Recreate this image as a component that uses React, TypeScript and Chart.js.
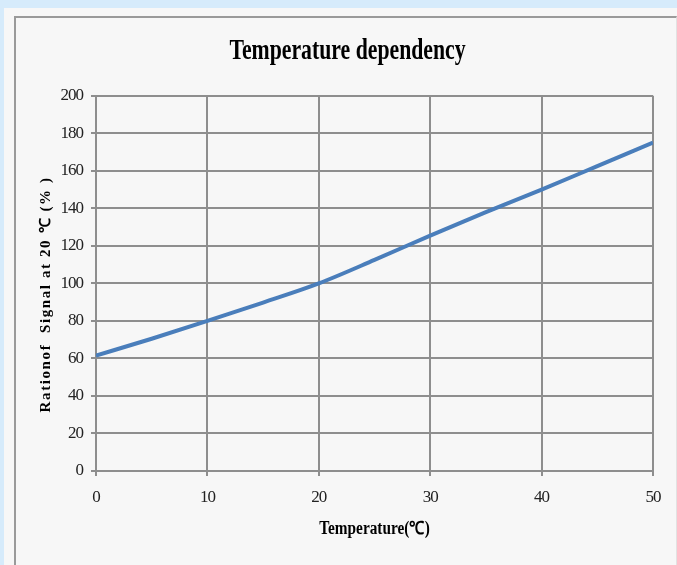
import React, { useEffect, useRef } from "react";
import { Chart, registerables } from "chart.js";

Chart.register(...registerables);

const temperatures = [0, 5, 10, 15, 20, 25, 30, 35, 40, 45, 50];
const ratioValues = [61.5, 70.5, 80, 89.8, 100, 112.5, 125.5, 138, 150, 162.5, 175];
const xTicks = [0, 10, 20, 30, 40, 50];
const yTicks = [0, 20, 40, 60, 80, 100, 120, 140, 160, 180, 200];

const chartTitle = "Temperature dependency";
const xTitle = "Temperature(℃)";
const yTitle = "Rationof  Signal at 20 ℃ (% )";

const W = 677;
const H = 565;

type Tweak = { spacing?: string; sx?: number; cx?: () => number; dy?: number };

function wrapDraw(obj: any, method: string, t: Tweak) {
  const key = "__wrapped_" + method;
  if (obj[key]) return;
  const orig = obj[method];
  obj[method] = function (...args: any[]) {
    const ctx = this.ctx;
    ctx.save();
    if (t.spacing) (ctx as any).letterSpacing = t.spacing;
    if (t.dy) ctx.translate(0, t.dy);
    if (t.sx && t.cx) {
      const c = t.cx();
      ctx.translate(c, 0);
      ctx.scale(t.sx, 1);
      ctx.translate(-c, 0);
    }
    const r = orig.apply(this, args);
    ctx.restore();
    return r;
  };
  obj[key] = true;
}

const textTweakPlugin = {
  id: "textTweakPlugin",
  beforeDraw(chart: any) {
    const tb = chart.titleBlock;
    if (tb) wrapDraw(tb, "draw", { sx: 0.75, cx: () => (tb.left + tb.right) / 2 });
    const x = chart.scales.x;
    const y = chart.scales.y;
    wrapDraw(x, "drawLabels", { spacing: "-1px" });
    wrapDraw(y, "drawLabels", { spacing: "-1px" });
    wrapDraw(y, "drawTitle", { spacing: "1.6px", dy: 11 });
    wrapDraw(x, "drawTitle", { sx: 0.85, cx: () => (x.left + x.right) / 2 });
  },
};

export default function App() {
  const ref = useRef<HTMLCanvasElement | null>(null);

  useEffect(() => {
    if (!ref.current) return;
    const serif = "'Liberation Serif', 'Times New Roman', serif";
    const grid = "#8e8e8e";
    const chart = new Chart(ref.current, {
      type: "line",
      data: {
        datasets: [
          {
            data: temperatures.map((t, i) => ({ x: t, y: ratioValues[i] })),
            borderColor: "#4a7ebb",
            borderWidth: 4,
            pointRadius: 0,
            cubicInterpolationMode: "monotone",
            fill: false,
          },
        ],
      },
      plugins: [textTweakPlugin],
      options: {
        animation: false,
        responsive: false,
        maintainAspectRatio: false,
        layout: { padding: { left: 42, right: 24, top: 0, bottom: 0 } },
        plugins: {
          legend: { display: false },
          tooltip: { enabled: false },
          title: {
            display: true,
            text: chartTitle,
            color: "#000",
            font: { family: serif, size: 29, weight: "bold" },
            padding: { top: 34, bottom: 27 },
          },
        },
        scales: {
          x: {
            type: "linear",
            min: 0,
            max: 50,
            afterBuildTicks: (scale: any) => {
              scale.ticks = xTicks.map((v) => ({ value: v }));
            },
            afterFit: (scale: any) => {
              scale.height = H - 471;
            },
            grid: {
              color: grid,
              lineWidth: 2,
              drawTicks: true,
              tickLength: 5,
            },
            border: { color: grid, width: 2 },
            ticks: {
              color: "#222",
              font: { family: serif, size: 17 },
              padding: 11,
              maxRotation: 0,
            },
            title: {
              display: true,
              text: xTitle,
              color: "#000",
              font: { family: serif, size: 18, weight: "bold" },
              padding: { top: 0, bottom: 25 },
            },
          },
          y: {
            type: "linear",
            min: 0,
            max: 200,
            afterBuildTicks: (scale: any) => {
              scale.ticks = yTicks.map((v) => ({ value: v }));
            },
            afterFit: (scale: any) => {
              scale.width = 54;
            },
            grid: {
              color: grid,
              lineWidth: 2,
              drawTicks: true,
              tickLength: 5,
            },
            border: { color: grid, width: 2 },
            ticks: {
              color: "#222",
              font: { family: serif, size: 17 },
              padding: 8,
            },
            title: {
              display: true,
              text: yTitle,
              color: "#000",
              font: { family: serif, size: 15, weight: "bold" },
              padding: { top: -5, bottom: 0 },
            },
          },
        },
      },
    });
    return () => chart.destroy();
  }, []);

  return (
    <div
      style={{
        position: "absolute",
        left: 0,
        top: 0,
        width: W,
        height: H,
        background: "#d6ebfb",
        overflow: "hidden",
      }}
    >
      <div
        style={{
          position: "absolute",
          left: 4,
          top: 8,
          width: W,
          height: H,
          background: "#f7f7f7",
        }}
      />
      <div
        style={{
          position: "absolute",
          left: 14,
          top: 16,
          width: W - 14 - 3,
          height: H,
          borderLeft: "2px solid #9a9a9a",
          borderTop: "2px solid #9a9a9a",
          borderRight: "1px solid #e2e2e2",
        }}
      />
      <canvas
        ref={ref}
        width={W}
        height={H}
        style={{ position: "absolute", left: 0, top: 0, width: W, height: H }}
      />
    </div>
  );
}
